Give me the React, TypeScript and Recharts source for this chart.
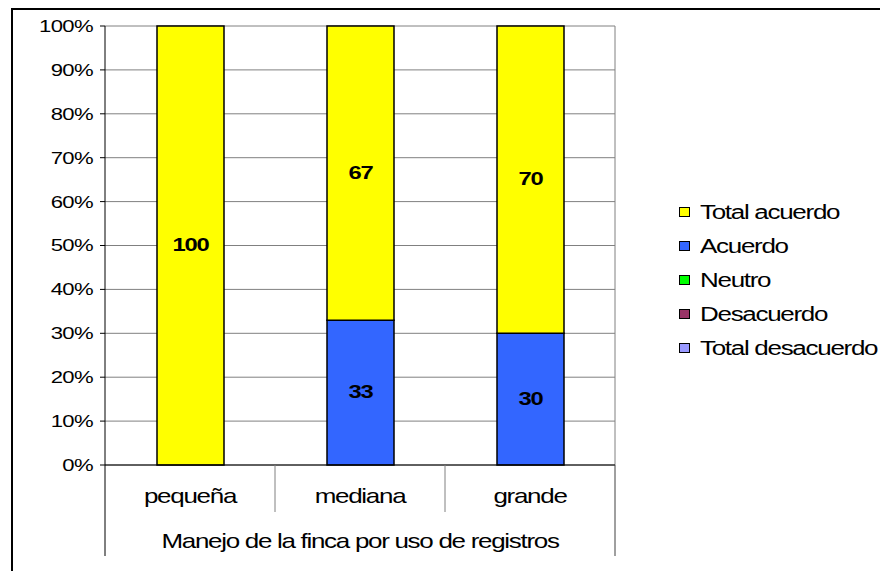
import { BarChart, Bar, XAxis, YAxis, CartesianGrid, Legend, LabelList } from 'recharts';

const categories = ['pequeña', 'mediana', 'grande'];
const totalAcuerdo = [100, 67, 70];
const acuerdo = [0, 33, 30];
const neutro = [0, 0, 0];
const desacuerdo = [0, 0, 0];
const totalDesacuerdo = [0, 0, 0];
const yTicks = [0, 10, 20, 30, 40, 50, 60, 70, 80, 90, 100];
const axisTitle = 'Manejo de la finca por uso de registros';

// legend order (top to bottom)
const legendOrder = ['Total acuerdo', 'Acuerdo', 'Neutro', 'Desacuerdo', 'Total desacuerdo'];

const data = categories.map((c, i) => ({
  name: c,
  totalDesacuerdo: totalDesacuerdo[i],
  desacuerdo: desacuerdo[i],
  neutro: neutro[i],
  acuerdo: acuerdo[i],
  totalAcuerdo: totalAcuerdo[i],
}));

const FONT = '"Liberation Sans", Arial, sans-serif';
const CHART_W = 880;
const CHART_H = 571;
const M_LEFT = 45;
const Y_W = 60;
const M_RIGHT = 265;
const BAND = (CHART_W - M_LEFT - Y_W - M_RIGHT) / categories.length;

function YTick(props: any) {
  const { x, y, payload } = props;
  return (
    <g transform={`translate(${x},${y})`}>
      <text transform="scale(1.3,1)" textAnchor="end" dy="0.35em" fontSize={17} letterSpacing={-0.5} fontFamily={FONT} fill="#000">
        {payload.value}%
      </text>
    </g>
  );
}

function XTick(props: any) {
  const { x, y, payload, index } = props;
  const last = index === categories.length - 1;
  return (
    <g>
      <line x1={x - BAND / 2} x2={x - BAND / 2} y1={y} y2={y + (index === 0 ? 91 : 47)} stroke={index === 0 ? '#000' : '#808080'} />
      {last && <line x1={x + BAND / 2} x2={x + BAND / 2} y1={y} y2={y + 91} stroke="#404040" />}
      <g transform={`translate(${x},${y + 38})`}>
        <text transform="scale(1.3,1)" textAnchor="middle" fontSize={20} letterSpacing={-1} fontFamily={FONT} fill="#000">
          {payload.value}
        </text>
      </g>
    </g>
  );
}

function TitleLabel(props: any) {
  const { viewBox, value } = props;
  if (!viewBox) return null;
  return (
    <g transform={`translate(${viewBox.x + viewBox.width / 2},${viewBox.y + 83})`}>
      <text transform="scale(1.3,1)" textAnchor="middle" fontSize={20} letterSpacing={-1} fontFamily={FONT} fill="#000">
        {value}
      </text>
    </g>
  );
}

function ValueLabel(props: any) {
  const { x = 0, y = 0, width = 0, height = 0, value } = props;
  if (!value) return null;
  return (
    <g transform={`translate(${x + width / 2},${y + height / 2 - 1})`}>
      <text transform="scale(1.25,1)" textAnchor="middle" dy="0.35em" fontSize={19} letterSpacing={-1} fontWeight={700} fontFamily={FONT} fill="#000">
        {value}
      </text>
    </g>
  );
}

function LegendContent(props: any) {
  const items = [...(props.payload || [])].sort(
    (a: any, b: any) => legendOrder.indexOf(a.value) - legendOrder.indexOf(b.value)
  );
  return (
    <div style={{ fontFamily: FONT, fontSize: 20, letterSpacing: -1 }}>
      {items.map((it: any) => (
        <div key={it.value} style={{ height: 34, display: 'flex', alignItems: 'center', whiteSpace: 'nowrap' }}>
          <span style={{ display: 'inline-block', width: 9, height: 8, border: '1px solid #000', background: it.color, marginRight: 10 }} />
          <span style={{ display: 'inline-block', transform: 'scale(1.3,1)', transformOrigin: 'left center' }}>{it.value}</span>
        </div>
      ))}
    </div>
  );
}

export default function App() {
  return (
    <div style={{ position: 'absolute', left: 0, top: 0, width: CHART_W, height: CHART_H, overflow: 'hidden', background: '#fff' }}>
      <div style={{ position: 'absolute', left: 11, top: 8, width: 900, height: 600, border: '2px solid #000' }} />
      <div style={{ position: 'absolute', left: 0, top: 0 }}>
        <BarChart width={CHART_W} height={CHART_H} data={data} margin={{ top: 26, left: M_LEFT, right: M_RIGHT, bottom: 6 }}>
          <CartesianGrid
            stroke="#808080"
            verticalCoordinatesGenerator={({ offset }: any) => [offset.left + offset.width]}
          />
          <XAxis
            dataKey="name"
            height={100}
            tickSize={0}
            tickMargin={0}
            tick={<XTick />}
            axisLine={{ stroke: '#000' }}
            label={<TitleLabel value={axisTitle} />}
            interval={0}
          />
          <YAxis
            width={Y_W}
            domain={[0, 100]}
            ticks={yTicks}
            tickSize={5}
            tickMargin={7}
            tick={<YTick />}
            tickLine={{ stroke: '#000' }}
            axisLine={{ stroke: '#000' }}
            interval={0}
          />
          <Legend
            layout="vertical"
            align="center"
            verticalAlign="middle"
            content={<LegendContent />}
            wrapperStyle={{ position: 'absolute', left: 679, top: 195, width: 220 }}
          />
          <Bar dataKey="totalDesacuerdo" name="Total desacuerdo" stackId="a" fill="#9999FF" stroke="#000" strokeWidth={1.5} barSize={67} isAnimationActive={false} />
          <Bar dataKey="desacuerdo" name="Desacuerdo" stackId="a" fill="#993366" stroke="#000" strokeWidth={1.5} barSize={67} isAnimationActive={false} />
          <Bar dataKey="neutro" name="Neutro" stackId="a" fill="#00FF00" stroke="#000" strokeWidth={1.5} barSize={67} isAnimationActive={false} />
          <Bar dataKey="acuerdo" name="Acuerdo" stackId="a" fill="#3366FF" stroke="#000" strokeWidth={1.5} barSize={67} isAnimationActive={false}>
            <LabelList dataKey="acuerdo" content={<ValueLabel />} />
          </Bar>
          <Bar dataKey="totalAcuerdo" name="Total acuerdo" stackId="a" fill="#FFFF00" stroke="#000" strokeWidth={1.5} barSize={67} isAnimationActive={false}>
            <LabelList dataKey="totalAcuerdo" content={<ValueLabel />} />
          </Bar>
        </BarChart>
      </div>
    </div>
  );
}
